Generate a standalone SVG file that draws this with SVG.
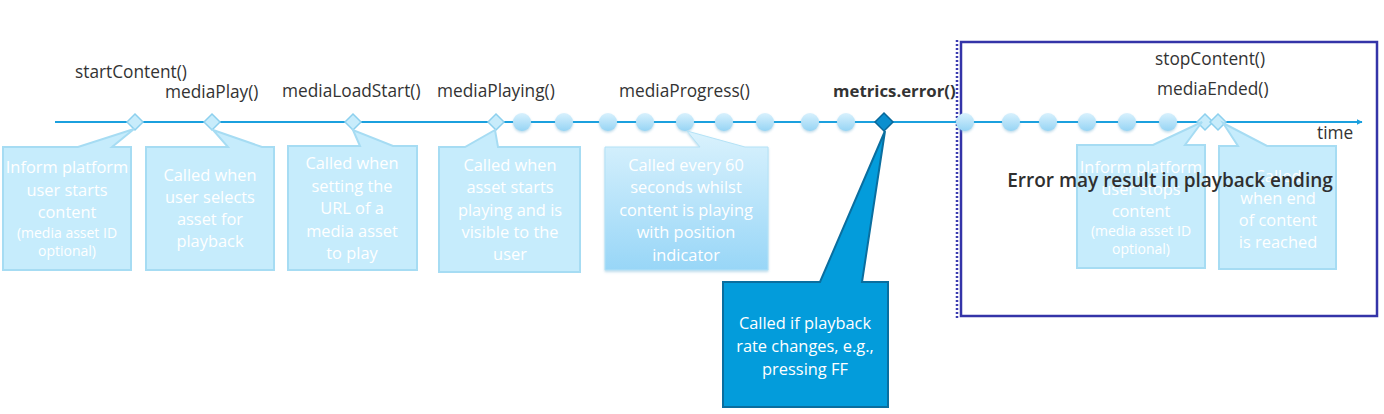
<svg xmlns="http://www.w3.org/2000/svg" width="1384" height="414" viewBox="0 0 1384 414">
<defs>
<style>
.lbl{font-family:"Open Sans","Liberation Sans",sans-serif;font-size:17.3px;fill:#333;}
.bold{font-weight:bold;font-size:16.8px;}
.bt{font-family:"Open Sans","Liberation Sans",sans-serif;font-size:16.4px;fill:#fff;text-anchor:middle;}
.sm{font-size:14px;}
.box{fill:#c6ecfc;stroke:#a6dcf3;stroke-width:2;}
.dl{fill:#c8ecfb;stroke:#8dd0ee;stroke-width:1.5;}
.dot{fill:url(#cg);filter:url(#sh);}
</style>
<linearGradient id="cg" x1="0" y1="0" x2="0" y2="1">
<stop offset="0" stop-color="#d8f1fd"/>
<stop offset="1" stop-color="#96d4f4"/>
</linearGradient>
<linearGradient id="pg" x1="0" y1="0" x2="0" y2="1">
<stop offset="0" stop-color="#daf2fd"/>
<stop offset="1" stop-color="#98d6f7"/>
</linearGradient>
<filter id="sh" x="-30%" y="-30%" width="160%" height="170%">
<feDropShadow dx="0" dy="1.5" stdDeviation="1" flood-color="#6aaed0" flood-opacity="0.45"/>
</filter>
<marker id="ah" viewBox="0 0 10 10" refX="9" refY="5" markerWidth="6" markerHeight="6" orient="auto" markerUnits="userSpaceOnUse">
<path d="M0,0 L10,5 L0,10 z" fill="#1ba0de"/>
</marker>
</defs>
<rect width="1384" height="414" fill="#fff"/>

<g id="region">
<rect x="961" y="42" width="416" height="274" fill="none" stroke="#3434a8" stroke-width="2.5"/>
<line x1="957" y1="40" x2="957" y2="318" stroke="#3a3ab0" stroke-width="2.5" stroke-dasharray="2 2"/>
</g>

<g id="connectors">
<line x1="55" y1="122" x2="1362" y2="122" stroke="#1ba0de" stroke-width="2" marker-end="url(#ah)"/>
</g>

<g id="progress-dots">
<circle class="dot" cx="522" cy="122" r="9"/>
<circle class="dot" cx="564" cy="122" r="9"/>
<circle class="dot" cx="608" cy="122" r="9"/>
<circle class="dot" cx="645" cy="122" r="9"/>
<circle class="dot" cx="685" cy="122" r="9"/>
<circle class="dot" cx="724" cy="122" r="9"/>
<circle class="dot" cx="765" cy="122" r="9"/>
<circle class="dot" cx="810" cy="122" r="9"/>
<circle class="dot" cx="846" cy="122" r="9"/>
<circle class="dot" cx="965" cy="122" r="9"/>
<circle class="dot" cx="1011" cy="122" r="9"/>
<circle class="dot" cx="1048" cy="122" r="9"/>
<circle class="dot" cx="1087" cy="122" r="9"/>
<circle class="dot" cx="1127" cy="122" r="9"/>
<circle class="dot" cx="1168" cy="122" r="9"/>
</g>

<g id="startContent">
<text class="lbl" x="75" y="78">startContent()</text>
<path class="dl" d="M135,114 L143,122 L135,130 L127,122 z"/>
<path class="box" d="M3,147 L78,147 L134,129 L112,147 L131,147 L131,270 L3,270 z"/>
<text class="bt" x="67" y="173">Inform platform</text>
<text class="bt" x="67" y="196">user starts</text>
<text class="bt" x="67" y="218">content</text>
<text class="bt sm" x="67" y="238">(media asset ID</text>
<text class="bt sm" x="67" y="256">optional)</text>
</g>

<g id="mediaPlay">
<text class="lbl" x="165" y="98">mediaPlay()</text>
<path class="dl" d="M212,114 L220,122 L212,130 L204,122 z"/>
<path class="box" d="M146,147 L228,147 L213,130 L262,147 L274,147 L274,270 L146,270 z"/>
<text class="bt" x="210" y="181">Called when</text>
<text class="bt" x="210" y="203">user selects</text>
<text class="bt" x="210" y="225">asset for</text>
<text class="bt" x="210" y="247">playback</text>
</g>

<g id="mediaLoadStart">
<text class="lbl" x="282" y="97">mediaLoadStart()</text>
<path class="dl" d="M353,114 L361,122 L353,130 L345,122 z"/>
<path class="box" d="M288,146 L360,146 L353,130 L393,146 L417,146 L417,270 L288,270 z"/>
<text class="bt" x="352" y="169">Called when</text>
<text class="bt" x="352" y="192">setting the</text>
<text class="bt" x="352" y="214">URL of a</text>
<text class="bt" x="352" y="237">media asset</text>
<text class="bt" x="352" y="259">to play</text>
</g>

<g id="mediaPlaying">
<text class="lbl" x="437" y="97">mediaPlaying()</text>
<path class="dl" d="M496,114 L504,122 L496,130 L488,122 z"/>
<path class="box" d="M439,147 L465,147 L495,130 L498,147 L580,147 L580,272 L439,272 z"/>
<text class="bt" x="510" y="171">Called when</text>
<text class="bt" x="510" y="193">asset starts</text>
<text class="bt" x="510" y="216">playing and is</text>
<text class="bt" x="510" y="238">visible to the</text>
<text class="bt" x="510" y="260">user</text>
</g>

<g id="mediaProgress">
<text class="lbl" x="619" y="97">mediaProgress()</text>
<path d="M605,147 L700,147 L687,131 L745,147 L768,147 L768,270 L605,270 z" fill="url(#pg)" stroke="#b4e2f6" stroke-width="1" filter="url(#sh)"/>
<text class="bt" x="686" y="171">Called every 60</text>
<text class="bt" x="686" y="193">seconds whilst</text>
<text class="bt" x="686" y="216">content is playing</text>
<text class="bt" x="686" y="238">with position</text>
<text class="bt" x="686" y="261">indicator</text>
</g>

<g id="metricsError">
<text class="lbl bold" x="833" y="97">metrics.error()</text>
<path d="M884,113 L893,122 L884,131 L875,122 z" fill="#0b8fcf" stroke="#08689a" stroke-width="1.5"/>
<path d="M723,282 L820,282 L885,131 L862,282 L888,282 L888,407 L723,407 z" fill="#039cdb" stroke="#0a6e9f" stroke-width="2"/>
<text class="bt" x="805" y="329">Called if playback</text>
<text class="bt" x="805" y="352">rate changes, e.g.,</text>
<text class="bt" x="805" y="375">pressing FF</text>
</g>

<g id="stopContent">
<text class="lbl" x="1155" y="65">stopContent()</text>
<path class="dl" d="M1205,114 L1213,122 L1205,130 L1197,122 z"/>
<path class="box" d="M1077,145 L1153,145 L1202,122 L1185,145 L1205,145 L1205,268 L1077,268 z"/>
<text class="bt" x="1141" y="173">Inform platform</text>
<text class="bt" x="1141" y="195">user stops</text>
<text class="bt" x="1141" y="217">content</text>
<text class="bt sm" x="1141" y="236">(media asset ID</text>
<text class="bt sm" x="1141" y="254">optional)</text>
</g>

<g id="mediaEnded">
<text class="lbl" x="1157" y="95">mediaEnded()</text>
<path class="dl" d="M1218,114 L1226,122 L1218,130 L1210,122 z"/>
<path class="box" d="M1219,146 L1238,146 L1223,123 L1267,146 L1336,146 L1336,269 L1219,269 z"/>
<text class="bt" x="1278" y="182">Called</text>
<text class="bt" x="1278" y="204">when end</text>
<text class="bt" x="1278" y="226">of content</text>
<text class="bt" x="1278" y="248">is reached</text>
</g>

<g id="labels">
<text class="lbl" x="1317" y="139">time</text>
<text x="1170" y="187" font-family="'Open Sans','Liberation Sans',sans-serif" font-size="19" font-weight="600" fill="#2f2f2f" text-anchor="middle">Error may result in playback ending</text>
</g>
</svg>
